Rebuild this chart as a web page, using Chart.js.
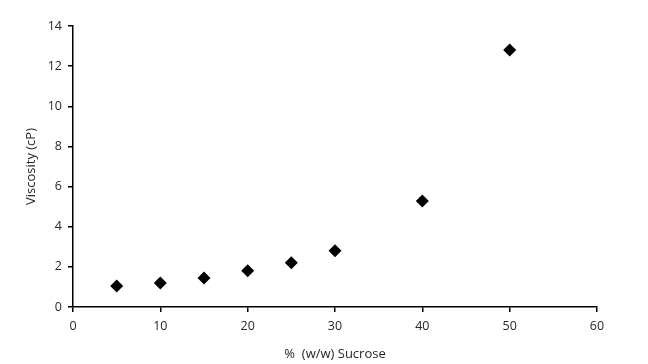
<!DOCTYPE html>
<html>
<head>
<meta charset="utf-8">
<script src="https://cdn.jsdelivr.net/npm/chart.js@4/dist/chart.umd.min.js"></script>
<style>
  html, body { margin: 0; padding: 0; background: #fff; }
  #wrap { width: 648px; height: 364px; }
</style>
</head>
<body>
<div id="wrap"><canvas id="myChart"></canvas></div>
<script>
// sucrose concentration (% w/w) and measured viscosity (cP)
const sucrose = [5, 10, 15, 20, 25, 30, 40, 50];
const viscosity = [1.05, 1.2, 1.45, 1.8, 2.2, 2.8, 5.28, 12.8];
const xTicks = [0, 10, 20, 30, 40, 50, 60];
const yTicks = [0, 2, 4, 6, 8, 10, 12, 14];

const font = { family: "'Open Sans', sans-serif", size: 12.5 };

var ctx = document.getElementById('myChart').getContext('2d');
let myChart = new Chart(ctx, {
  type: 'scatter',
  data: {
    datasets: [{
      label: 'Viscosity',
      data: sucrose.map((x, i) => ({ x: x, y: viscosity[i] })),
      pointStyle: 'rectRot',
      pointRadius: 6.5,
      pointBackgroundColor: '#000',
      pointBorderColor: '#000',
      pointBorderWidth: 0
    }]
  },
  options: {
    responsive: true,
    maintainAspectRatio: false,
    animation: false,
    layout: { padding: { top: 26, right: 51, left: 0, bottom: 0 } },
    plugins: {
      legend: { display: false },
      tooltip: { enabled: false }
    },
    scales: {
      x: {
        type: 'linear',
        min: 0,
        max: 60,
        afterBuildTicks: (axis) => { axis.ticks = xTicks.map(v => ({ value: v })); },
        afterFit: (axis) => { axis.height = 57; },
        ticks: { color: '#262626', font: font, padding: 7 },
        grid: { drawOnChartArea: false, drawTicks: true, tickLength: 5, color: '#000', lineWidth: 1.5 },
        border: { color: '#000', width: 1.5 },
        title: { display: true, text: '%  (w/w) Sucrose', color: '#262626', font: { family: font.family, size: 13 }, padding: { top: 6, bottom: 2 } }
      },
      y: {
        type: 'linear',
        min: 0,
        max: 14,
        afterBuildTicks: (axis) => { axis.ticks = yTicks.map(v => ({ value: v })); },
        afterFit: (axis) => { axis.width = 73; },
        ticks: { color: '#262626', font: font, padding: 6 },
        grid: { drawOnChartArea: false, drawTicks: true, tickLength: 5, color: '#000', lineWidth: 1.5 },
        border: { color: '#000', width: 1.5 },
        title: { display: true, text: 'Viscosity (cP)', color: '#262626', font: { family: font.family, size: 13 }, padding: { top: 23, bottom: 4 } }
      }
    }
  }
});
</script>
</body>
</html>
